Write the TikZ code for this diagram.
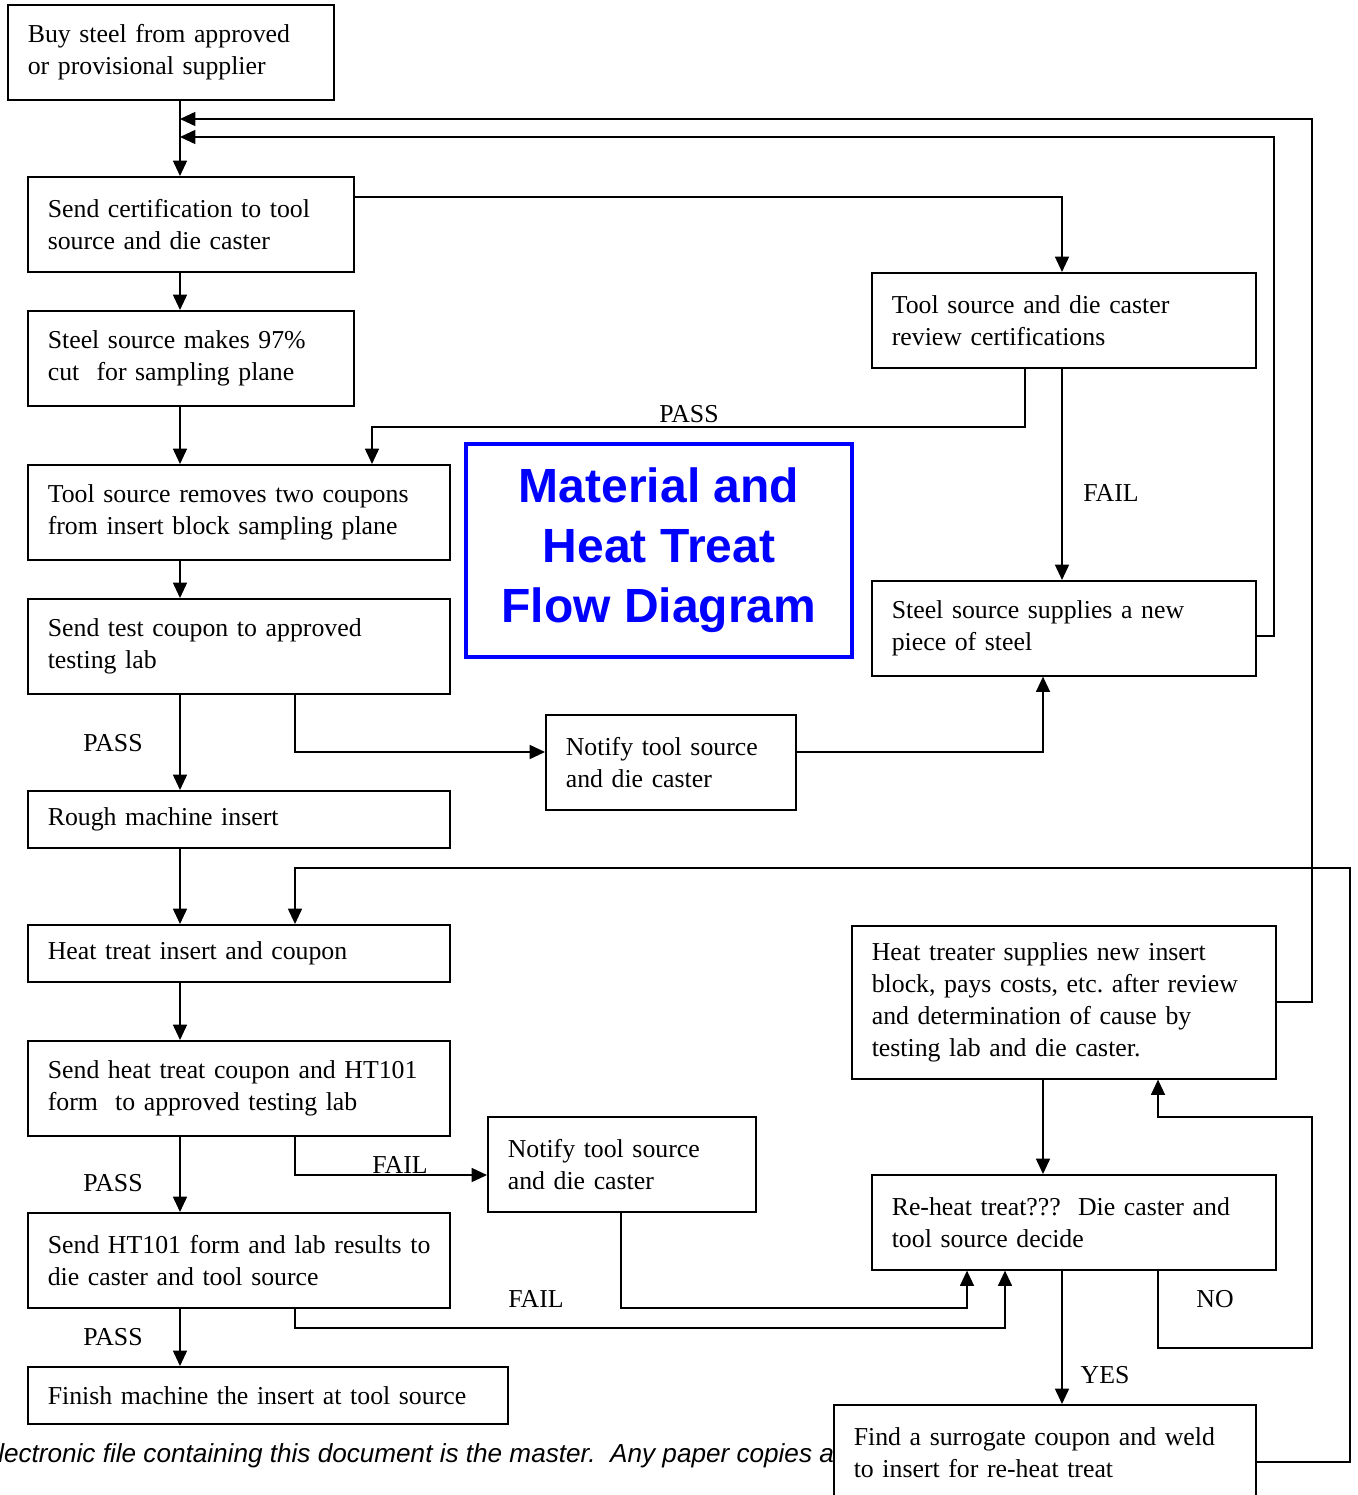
\documentclass[tikz,border=0pt]{standalone}
\usepackage{fontspec}
\setmainfont{Liberation Serif}
\newfontfamily\sansfam{Liberation Sans}
\usetikzlibrary{arrows.meta}
\frenchspacing
\begin{document}
\begin{tikzpicture}[x=0.75pt,y=-0.75pt,
  box/.style={draw, line width=1.2pt, fill=white, anchor=north west, align=left,
    inner xsep=15pt, inner ysep=0pt, font=\fontsize{19.35}{24}\selectfont},
  bA/.style={box, minimum width=244.5pt, minimum height=71.25pt, text width=214.5pt},
  bB/.style={box, minimum width=316.5pt, minimum height=71.25pt, text width=286.5pt},
  bBs/.style={box, minimum width=316.5pt, minimum height=42.75pt, text width=286.5pt},
  conn/.style={draw, line width=1.2pt},
  arr/.style={conn, -{Triangle[length=11.5pt,width=10.5pt]}},
  lbl/.style={inner sep=0pt, font=\fontsize{19.35}{24}\selectfont},
  titlebox/.style={draw=blue, line width=3pt, text=blue, align=center,
    minimum width=289.5pt, minimum height=159.75pt,
    font=\sansfam\bfseries\fontsize{36}{45}\selectfont},
  foot/.style={inner sep=0pt, anchor=base west, font=\sansfam\itshape\fontsize{19.6}{23}\selectfont}
]
\useasboundingbox (0,0) rectangle (1357,1495);

% guide coordinates
\coordinate (gA) at (180,0);
\coordinate (gB) at (295,0);
\coordinate (gC) at (372,0);
\coordinate (gD) at (1025,0);
\coordinate (gE) at (1062,0);
\coordinate (gF) at (1043,0);
\coordinate (gG) at (967,0);
\coordinate (gH) at (1005,0);
\coordinate (gI) at (1158,0);
\coordinate (gJ) at (621,0);
\coordinate (gK) at (1274,0);
\coordinate (gL) at (1312,0);
\coordinate (gM) at (1350,0);
\coordinate (r119) at (0,119);
\coordinate (r137) at (0,137);
\coordinate (r197) at (0,197);
\coordinate (r427) at (0,427);
\coordinate (r636) at (0,636);
\coordinate (r752) at (0,752);
\coordinate (r868) at (0,868);
\coordinate (r1002) at (0,1002);
\coordinate (r1117) at (0,1117);
\coordinate (r1175) at (0,1175);
\coordinate (r1308) at (0,1308);
\coordinate (r1328) at (0,1328);
\coordinate (r1348) at (0,1348);
\coordinate (r1462) at (0,1462);

% footer (partly covered by the last box)
\node[foot] (footer) at (-2,1462) {lectronic file containing this document is the master.\ \ Any paper copies a};

% boxes
\node[bA] (buy) at (7,4) {Buy steel from approved\\or provisional supplier};
\node[bA] (cert) at (27,176) {Send certification to tool\\source and die caster};
\node[bA] (cut) at (27,310) {Steel source makes 97\%\\cut\ \ for sampling plane};
\node[bB] (coupons) at (27,464) {Tool source removes two coupons\\from insert block sampling plane};
\node[bB] (testlab) at (27,598) {Send test coupon to approved\\testing lab};
\node[bBs] (rough) at (27,790) {Rough machine insert};
\node[bBs] (ht) at (27,924) {Heat treat insert and coupon};
\node[bB] (htform) at (27,1040) {Send heat treat coupon and HT101\\form\ \ to approved testing lab};
\node[bB] (results) at (27,1212) {\mbox{Send HT101 form and lab results to}\\die caster and tool source};
\node[box, minimum width=360pt, minimum height=42.75pt, text width=330pt] (finish) at (27,1366) {Finish machine the insert at tool source};
\node[box, minimum width=288pt, minimum height=71.25pt, text width=258pt] (review) at (871,272) {Tool source and die caster\\review certifications};
\node[box, minimum width=288pt, minimum height=71.25pt, text width=258pt] (newsteel) at (871,580) {Steel source supplies a new\\piece of steel};
\node[box, minimum width=187.5pt, minimum height=71.25pt, text width=157.5pt] (notify1) at (545,714) {Notify tool source\\and die caster};
\node[box, minimum width=318pt, minimum height=114.75pt, text width=288pt] (treater) at (851,925) {Heat treater supplies new insert\\block, pays costs, etc. after review\\and determination of cause by\\testing lab and die caster.};
\node[box, minimum width=201pt, minimum height=71.25pt, text width=171pt] (notify2) at (487,1116) {Notify tool source\\and die caster};
\node[box, minimum width=303pt, minimum height=71.25pt, text width=273pt] (reheat) at (871,1174) {Re-heat treat???\ \ Die caster and\\tool source decide};
\node[bB] (surrogate) at (833,1404) {Find a surrogate coupon and weld\\to insert for re-heat treat};

% title
\node[titlebox] (title) at (659,550.5) {\raisebox{-3pt}{Material and}\\\raisebox{-3pt}{Heat Treat}\\\raisebox{-3pt}{Flow Diagram}};

% connectors
\draw[arr] (gA |- buy.south) -- (gA |- cert.north);
\draw[arr] (newsteel.east |- r636) -| (gK |- r137) -- (gA |- r137);
\draw[arr] (treater.east |- r1002) -| (gL |- r119) -- (gA |- r119);
\draw[arr] (cert.east |- r197) -| (gE |- review.north);
\draw[arr] (gA |- cert.south) -- (gA |- cut.north);
\draw[arr] (gA |- cut.south) -- (gA |- coupons.north);
\draw[arr] (gD |- review.south) |- (gC |- r427) -- (gC |- coupons.north);
\draw[arr] (gE |- review.south) -- (gE |- newsteel.north);
\draw[arr] (gA |- coupons.south) -- (gA |- testlab.north);
\draw[arr] (gA |- testlab.south) -- (gA |- rough.north);
\draw[arr] (gB |- testlab.south) |- (notify1.west |- r752);
\draw[arr] (notify1.east |- r752) -| (gF |- newsteel.south);
\draw[arr] (gA |- rough.south) -- (gA |- ht.north);
\draw[arr] (surrogate.east |- r1462) -| (gM |- r868) -| (gB |- ht.north);
\draw[arr] (gA |- ht.south) -- (gA |- htform.north);
\draw[arr] (gA |- htform.south) -- (gA |- results.north);
\draw[arr] (gB |- htform.south) |- (notify2.west |- r1175);
\draw[arr] (gJ |- notify2.south) |- (gG |- r1308) -- (gG |- reheat.south);
\draw[arr] (gB |- results.south) |- (gH |- r1328) -- (gH |- reheat.south);
\draw[arr] (gA |- results.south) -- (gA |- finish.north);
\draw[arr] (gF |- treater.south) -- (gF |- reheat.north);
\draw[arr] (gI |- reheat.south) |- (gL |- r1348) |- (gI |- r1117) -- (gI |- treater.south);
\draw[arr] (gE |- reheat.south) -- (gE |- surrogate.north);

% labels
\node[lbl] (l1) at (689,414) {PASS};
\node[lbl] (l2) at (1111,493) {FAIL};
\node[lbl] (l3) at (113,743) {PASS};
\node[lbl] (l4) at (400,1165) {FAIL};
\node[lbl] (l5) at (113,1183) {PASS};
\node[lbl] (l6) at (536,1299) {FAIL};
\node[lbl] (l7) at (113,1337) {PASS};
\node[lbl] (l8) at (1215,1299) {NO};
\node[lbl] (l9) at (1105,1375) {YES};
\end{tikzpicture}
\end{document}
